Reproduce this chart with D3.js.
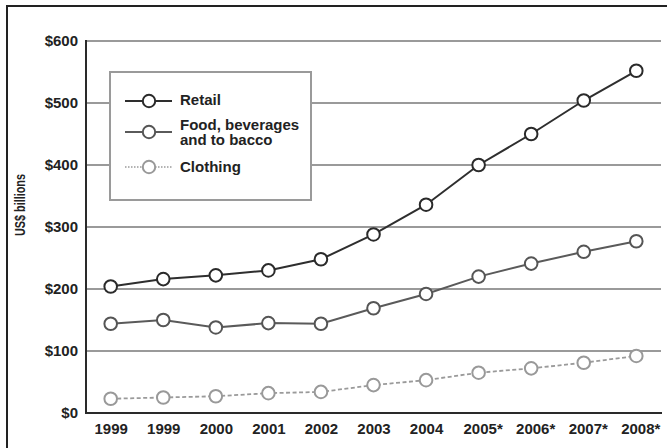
<!DOCTYPE html>
<html>
<head>
<meta charset="utf-8">
<script src="https://cdn.jsdelivr.net/npm/d3@7"></script>
<style>
  body { margin: 0; background: #fff; }
  text { font-family: "Liberation Sans", Arial, sans-serif; font-weight: bold; fill: #222; }
</style>
</head>
<body>
<div id="chart"></div>
<script>
// data
let years = ["1999", "1999", "2000", "2001", "2002", "2003", "2004", "2005*", "2006*", "2007*", "2008*"];
let retail = [204, 216, 222, 230, 248, 288, 336, 400, 450, 504, 552];
let food = [144, 150, 138, 145, 144, 169, 192, 220, 241, 260, 277];
let clothing = [23, 25, 27, 32, 34, 45, 53, 65, 72, 81, 92];
let yTicks = [0, 100, 200, 300, 400, 500, 600];

let series = [
    {name: ["Retail"], values: retail, line: "#2e2e2e", ring: "#2a2a2a", dash: null, legDash: null},
    {name: ["Food, beverages", "and to bacco"], values: food, line: "#5a5a5a", ring: "#555", dash: null, legDash: null},
    {name: ["Clothing"], values: clothing, line: "#9a9a9a", ring: "#999", dash: "4,2.5", legDash: "1.5,1.5"}
];

let width = 667, height = 448;
let plotLeft = 86, plotRight = 661, plotTop = 41, plotBottom = 413;

let svg = d3.select("#chart").append("svg").attr("width", width).attr("height", height);

/* outer frame, only left and top edges fall inside the picture */
svg.append("rect")
    .attr("x", 7).attr("y", 6).attr("width", 720).attr("height", 500)
    .attr("fill", "none").attr("stroke", "#222").attr("stroke-width", 2);

let x = d3.scalePoint().domain(d3.range(years.length)).range([plotLeft, plotRight]).padding(0.47);
let y = d3.scaleLinear().domain([0, 600]).range([plotBottom, plotTop]);

// gridlines
svg.append("g").selectAll("line")
    .data(yTicks.filter(function(d) { return d > 0; }))
    .enter().append("line")
    .attr("x1", plotLeft).attr("x2", plotRight)
    .attr("y1", function(d) { return y(d); }).attr("y2", function(d) { return y(d); })
    .attr("stroke", "#9a9a9a").attr("stroke-width", 2);

// y axis
let yAxis = d3.axisLeft(y).tickValues(yTicks).tickSize(0).tickPadding(8)
    .tickFormat(function(d) { return "$" + d; });
let gy = svg.append("g").attr("transform", "translate(" + plotLeft + ",0)").call(yAxis);
gy.select(".domain").remove();
gy.selectAll("text").attr("font-size", 15).attr("font-family", null).attr("fill", "#222");

// x axis
let xAxis = d3.axisBottom(x).tickSize(0).tickPadding(10)
    .tickFormat(function(i) { return years[i]; });
let gx = svg.append("g").attr("transform", "translate(0," + plotBottom + ")").call(xAxis);
gx.select(".domain").remove();
gx.selectAll("text").attr("font-size", 15).attr("font-family", null).attr("fill", "#222")
    .attr("dx", function(i) { return years[i].indexOf("*") > 0 ? 4 : 0; });

svg.append("line").attr("x1", plotLeft).attr("x2", plotRight + 1).attr("y1", plotBottom).attr("y2", plotBottom)
    .attr("stroke", "#2a2a2a").attr("stroke-width", 2);
svg.append("line").attr("x1", plotLeft).attr("x2", plotLeft).attr("y1", plotTop - 1).attr("y2", plotBottom + 1)
    .attr("stroke", "#2a2a2a").attr("stroke-width", 2);

// axis title, narrow like the original face
svg.append("text")
    .attr("transform", "translate(25,205) rotate(-90)")
    .attr("text-anchor", "middle")
    .attr("font-size", 15)
    .attr("textLength", 62).attr("lengthAdjust", "spacingAndGlyphs")
    .text("US$ billions");

// legend box
let leg = svg.append("g");
leg.append("rect")
    .attr("x", 110).attr("y", 72).attr("width", 201).attr("height", 128)
    .attr("fill", "#fff").attr("stroke", "#9a9a9a").attr("stroke-width", 2);

let legY = [101, 132, 167];
let legText = [[105], [129.5], [171.5]];
series.forEach(function(s, k) {
    leg.append("line")
        .attr("x1", 125).attr("x2", 172).attr("y1", legY[k]).attr("y2", legY[k])
        .attr("stroke", s.line).attr("stroke-width", s.legDash ? 1.5 : 2)
        .attr("stroke-dasharray", s.legDash);
    leg.append("circle")
        .attr("cx", 149).attr("cy", legY[k]).attr("r", 6.2)
        .attr("fill", "#fff").attr("stroke", s.ring).attr("stroke-width", 2);
    let t = leg.append("text").attr("x", 180).attr("y", legText[k][0]).attr("font-size", 15);
    s.name.forEach(function(part, j) {
        t.append("tspan").attr("x", 180).attr("dy", j === 0 ? 0 : 15.5).text(part);
    });
});

// series lines and markers
let line = d3.line()
    .x(function(d, i) { return x(i); })
    .y(function(d) { return y(d); });

series.slice().reverse().forEach(function(s) {
    let g = svg.append("g");
    g.append("path")
        .attr("d", line(s.values))
        .attr("fill", "none").attr("stroke", s.line)
        .attr("stroke-width", s.dash ? 1.8 : 2)
        .attr("stroke-dasharray", s.dash);
    g.selectAll("circle")
        .data(s.values)
        .enter().append("circle")
        .attr("cx", function(d, i) { return x(i); })
        .attr("cy", function(d) { return y(d); })
        .attr("r", 6.3)
        .attr("fill", "#fff").attr("stroke", s.ring).attr("stroke-width", 2);
});
</script>
</body>
</html>
